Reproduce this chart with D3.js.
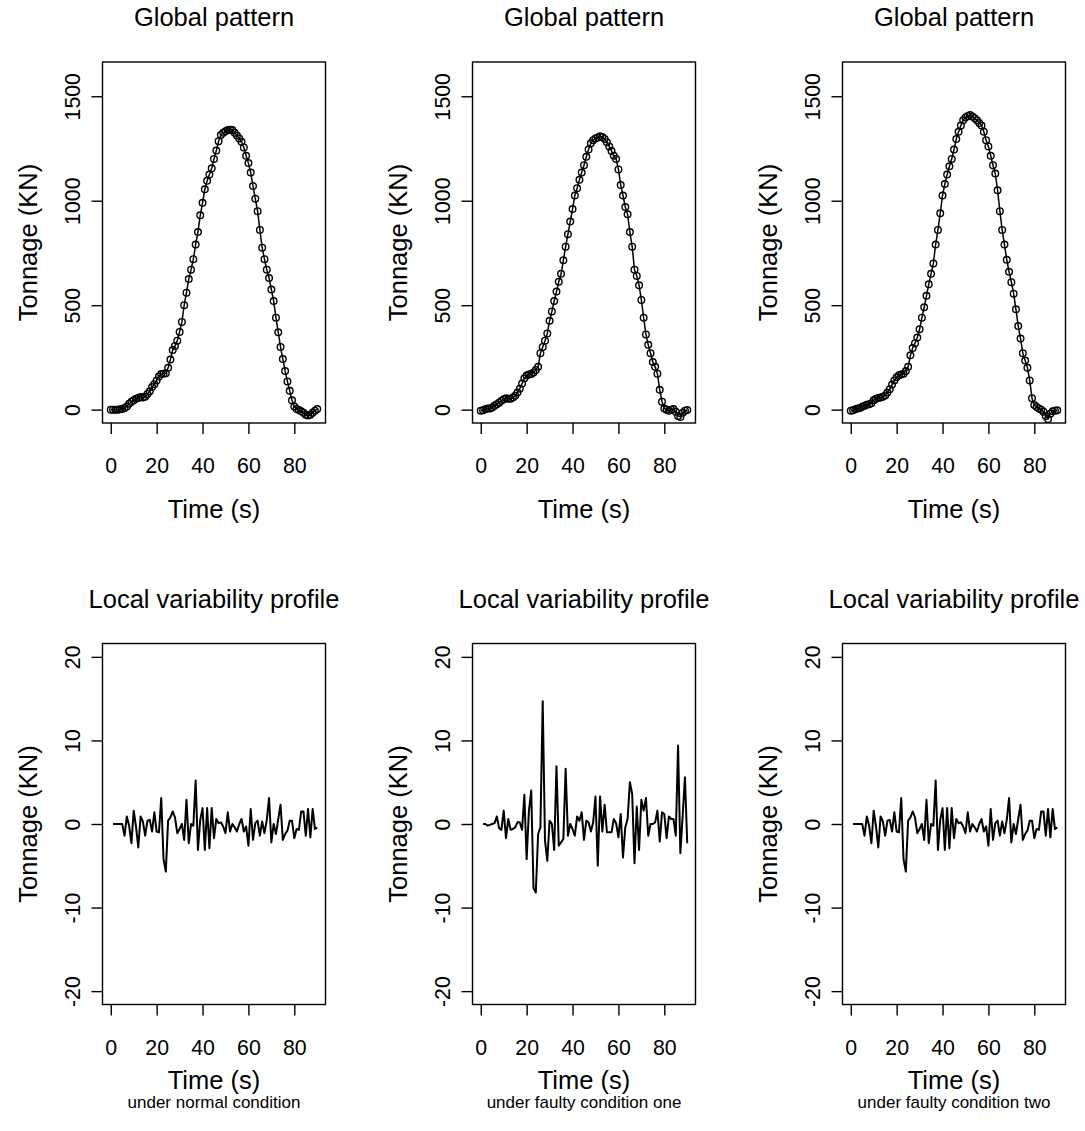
<!DOCTYPE html>
<html>
<head>
<meta charset="utf-8">
<script src="https://cdn.jsdelivr.net/npm/d3@7"></script>
<style>
  body { margin: 0; background: #fff; }
  svg { display: block; font-family: "Liberation Sans", Arial, sans-serif; }
</style>
</head>
<body>
<svg id="chart" width="1085" height="1131"></svg>
<script>
// one reading per second, index = time (s); global series start at t=0, local at t=1
var globalNormal = [
  0, 0, 0, 0, 2, 3, 8, 15, 28, 38,
  45, 52, 56, 60, 58, 62, 75, 88, 108, 122,
  140, 158, 170, 172, 174, 200, 240, 285, 305, 330,
  372, 420, 500, 560, 625, 670, 720, 790, 850, 930,
  990, 1055, 1095, 1125, 1155, 1200, 1240, 1285, 1315, 1325,
  1332, 1338, 1340, 1338, 1325, 1312, 1298, 1282, 1255, 1215,
  1180, 1135, 1070, 1010, 950, 860, 775, 720, 670, 630,
  575, 520, 440, 370, 300, 242, 185, 135, 90, 45,
  15, 3, -2, -8, -15, -25, -28, -25, -15, -5, 3
];
var globalFault1 = [
  -5, -3, 2, 5, 6, 10, 18, 26, 33, 42,
  50, 54, 52, 52, 58, 66, 82, 100, 125, 150,
  163, 168, 170, 178, 190, 205, 270, 300, 330, 365,
  425, 470, 520, 565, 612, 650, 715, 780, 840, 900,
  960, 1025, 1060, 1100, 1135, 1170, 1210, 1245, 1275, 1290,
  1298, 1303, 1308, 1305, 1296, 1280, 1260, 1238, 1215, 1200,
  1150, 1075, 1025, 970, 935, 850, 780, 670, 640, 595,
  525, 440, 360, 310, 270, 228, 205, 172, 95, 38,
  5, 0, -5, 0, 3, -10, -30, -35, -15, -5, -2
];
var globalFault2 = [
  -5, -3, 2, 5, 8, 14, 19, 23, 26, 30,
  45, 52, 56, 58, 62, 68, 82, 98, 120, 140,
  155, 165, 168, 172, 185, 205, 260, 295, 318, 345,
  385, 440, 490, 545, 600, 650, 700, 790, 860, 940,
  1025, 1080, 1125, 1165, 1200, 1245, 1295, 1330, 1360, 1385,
  1398, 1405, 1410, 1403, 1395, 1385, 1372, 1360, 1330, 1290,
  1260, 1215, 1170, 1130, 1050, 950, 860, 790, 717, 660,
  610, 555, 480, 400, 340, 270, 235, 200, 140, 55,
  22, 12, 6, 0, -10, -30, -45, -20, -8, -5, -3
];

var localNormal = [
  0, 0, 0, 0, 0, -1.4, 0.9, -0.2, -2.3, 1.6,
  -0.3, -2.8, 0.9, 0.3, -1.4, 0.4, 0.5, -0.9, 1.4, -0.9,
  -1.0, 3.1, -4.2, -5.7, 0.4, 0.8, 1.5, 0.8, -1.1, -0.6,
  0, -1.9, 2.9, -2.3, 0, -0.2, 5.2, -3.1, 0.5, 1.9,
  -3.1, 1.9, -2.9, 1.9, -1.7, 0.6, 0.1, 0.2, -0.3, -1.1,
  1.4, -0.9, 0, -0.4, -0.9, 0, 0.6, -0.9, -0.3, -2.6,
  1.8, -1.9, 0.1, 0.4, -1.4, 0.3, -1.1, 0.5, 3.1, -2.2,
  0, -1.2, 0.6, 2.3, -1.9, -1.2, -0.8, 0.4, 0.4, -1.7,
  -0.6, -0.7, 1.5, 1.5, -1.4, 1.8, -1.6, 1.8, -0.6, -0.4
];
var localFault1 = [
  0, 0, -0.2, -0.1, 0, 0.1, 0.9, -0.5, -0.7, 1.6,
  -1.7, 0.6, -0.7, -0.6, -0.4, 0.2, 0.2, -0.7, 3.5, -4.2,
  1.6, 4.0, -7.7, -8.2, -1.2, -0.4, 14.7, -2.0, -4.4, 0.4,
  0, -3.1, 6.9, -2.6, -2.2, -1.8, 6.6, -1.4, 0, -0.6,
  -1.4, 0.9, 0.4, 1.4, -1.9, 0.4, 0.2, -0.9, 0.2, 3.3,
  -5.0, 3.3, -0.9, 2.3, -1.0, -1.0, -1.0, 0.6, 0.1, -1.6,
  1.2, -4.0, -0.4, 0.6, 5.0, 3.6, -4.7, 2.1, -3.1, 2.9,
  1.6, 3.1, -1.4, 0, 0, 0.2, 1.6, -2.1, 1.4, 1.2,
  -1.7, 0.9, 0.6, 0.6, -1.4, 9.4, -3.5, 1.0, 5.6, -2.3
];
var localFault2 = [
  0, 0, 0, 0, 0, -1.4, 0.9, -0.2, -2.3, 1.6,
  -0.3, -2.8, 0.9, 0.3, -1.4, 0.4, 0.5, -0.9, 1.4, -0.9,
  -1.0, 3.1, -4.2, -5.7, 0.4, 0.8, 1.5, 0.8, -1.1, -0.6,
  0, -1.9, 2.9, -2.3, 0, -0.2, 5.2, -3.1, 0.5, 1.9,
  -3.1, 1.9, -2.9, 1.9, -1.7, 0.6, 0.1, 0.2, -0.3, -1.1,
  1.4, -0.9, 0, -0.4, -0.9, 0, 0.6, -0.9, -0.3, -2.6,
  1.8, -1.9, 0.1, 0.4, -1.4, 0.3, -1.1, 0.5, 3.1, -2.2,
  0, -1.2, 0.6, 2.3, -1.9, -1.2, -0.8, 0.4, 0.4, -1.7,
  -0.6, -0.7, 1.5, 1.5, -1.4, 1.8, -1.6, 1.8, -0.6, -0.4
];

var xTicks = [0, 20, 40, 60, 80];
var globalTicks = [0, 500, 1000, 1500];
var localTicks = [-20, -10, 0, 10, 20];
var captions = ["under normal condition", "under faulty condition one", "under faulty condition two"];

function main() {
    var svg = d3.select("#chart");

    var boxW = 223, boxH = 361,
        colLeft = [102.5, 472.5, 842.5],
        rowTop = [62, 643.5];

    var globals = [globalNormal, globalFault1, globalFault2],
        locals = [localNormal, localFault1, localFault2];

    for (var c = 0; c < 3; c++) {
        drawPanel(svg, colLeft[c], rowTop[0], "Global pattern",
            globals[c], 0, [-64, 1664], globalTicks, true, null);
        drawPanel(svg, colLeft[c], rowTop[1], "Local variability profile",
            locals[c], 1, [-21.6, 21.6], localTicks, false, captions[c]);
    }

    function drawPanel(svg, left, top, title, values, t0, yDomain, yTicks, points, caption) {
        var x = d3.scaleLinear().domain([-3.6, 93.6]).range([0, boxW]),
            y = d3.scaleLinear().domain(yDomain).range([boxH, 0]);

        var g = svg.append("g")
            .attr("transform", "translate(" + left + "," + top + ")");

        var line = d3.line()
            .x(function(d, i) { return x(i + t0); })
            .y(function(d) { return y(d); });

        g.append("path")
            .datum(values)
            .attr("fill", "none")
            .attr("stroke", "#000")
            .attr("stroke-width", points ? 1.5 : 2)
            .attr("stroke-linejoin", "round")
            .attr("d", line);

        if (points) {
            g.selectAll(".pt")
                .data(values)
                .enter()
                .append("circle")
                .attr("class", "pt")
                .attr("cx", function(d, i) { return x(i + t0); })
                .attr("cy", function(d) { return y(d); })
                .attr("r", 3.3)
                .attr("fill", "none")
                .attr("stroke", "#000")
                .attr("stroke-width", 1.4);
        }

        // box
        g.append("rect")
            .attr("width", boxW)
            .attr("height", boxH)
            .attr("fill", "none")
            .attr("stroke", "#000")
            .attr("stroke-width", 1.4);

        var fmt = function(d) { return String(d); };

        var xAxis = g.append("g")
            .attr("transform", "translate(0," + boxH + ")")
            .call(d3.axisBottom(x).tickValues(xTicks).tickFormat(fmt).tickSize(11).tickPadding(0).tickSizeOuter(0));
        xAxis.select(".domain").remove();
        xAxis.selectAll("line").attr("stroke-width", 1.4);
        xAxis.selectAll("text")
            .attr("y", 50)
            .attr("dy", 0)
            .attr("font-size", "21.3px")
            .attr("font-family", "Liberation Sans, Arial, sans-serif")
            .attr("fill", "#000");

        var yAxis = g.append("g")
            .call(d3.axisLeft(y).tickValues(yTicks).tickFormat(fmt).tickSize(11).tickSizeOuter(0));
        yAxis.select(".domain").remove();
        yAxis.selectAll("line").attr("stroke-width", 1.4);
        yAxis.selectAll("text")
            .attr("x", null)
            .attr("dy", null)
            .attr("transform", "translate(-22.5,0) rotate(-90)")
            .attr("text-anchor", "middle")
            .attr("font-size", "21.3px")
            .attr("font-family", "Liberation Sans, Arial, sans-serif")
            .attr("fill", "#000");

        g.append("text")
            .attr("x", boxW / 2)
            .attr("y", -36)
            .attr("text-anchor", "middle")
            .attr("font-size", "25.5px")
            .text(title);

        g.append("text")
            .attr("transform", "translate(-66," + (boxH / 2) + ") rotate(-90)")
            .attr("text-anchor", "middle")
            .attr("font-size", "25.5px")
            .text("Tonnage (KN)");

        g.append("text")
            .attr("x", boxW / 2)
            .attr("y", caption ? boxH + 84 : boxH + 95)
            .attr("text-anchor", "middle")
            .attr("font-size", "25.5px")
            .text("Time (s)");

        if (caption) {
            g.append("text")
                .attr("x", boxW / 2)
                .attr("y", boxH + 103)
                .attr("text-anchor", "middle")
                .attr("font-size", "17px")
                .text(caption);
        }
    }
}
main();
</script>
</body>
</html>
